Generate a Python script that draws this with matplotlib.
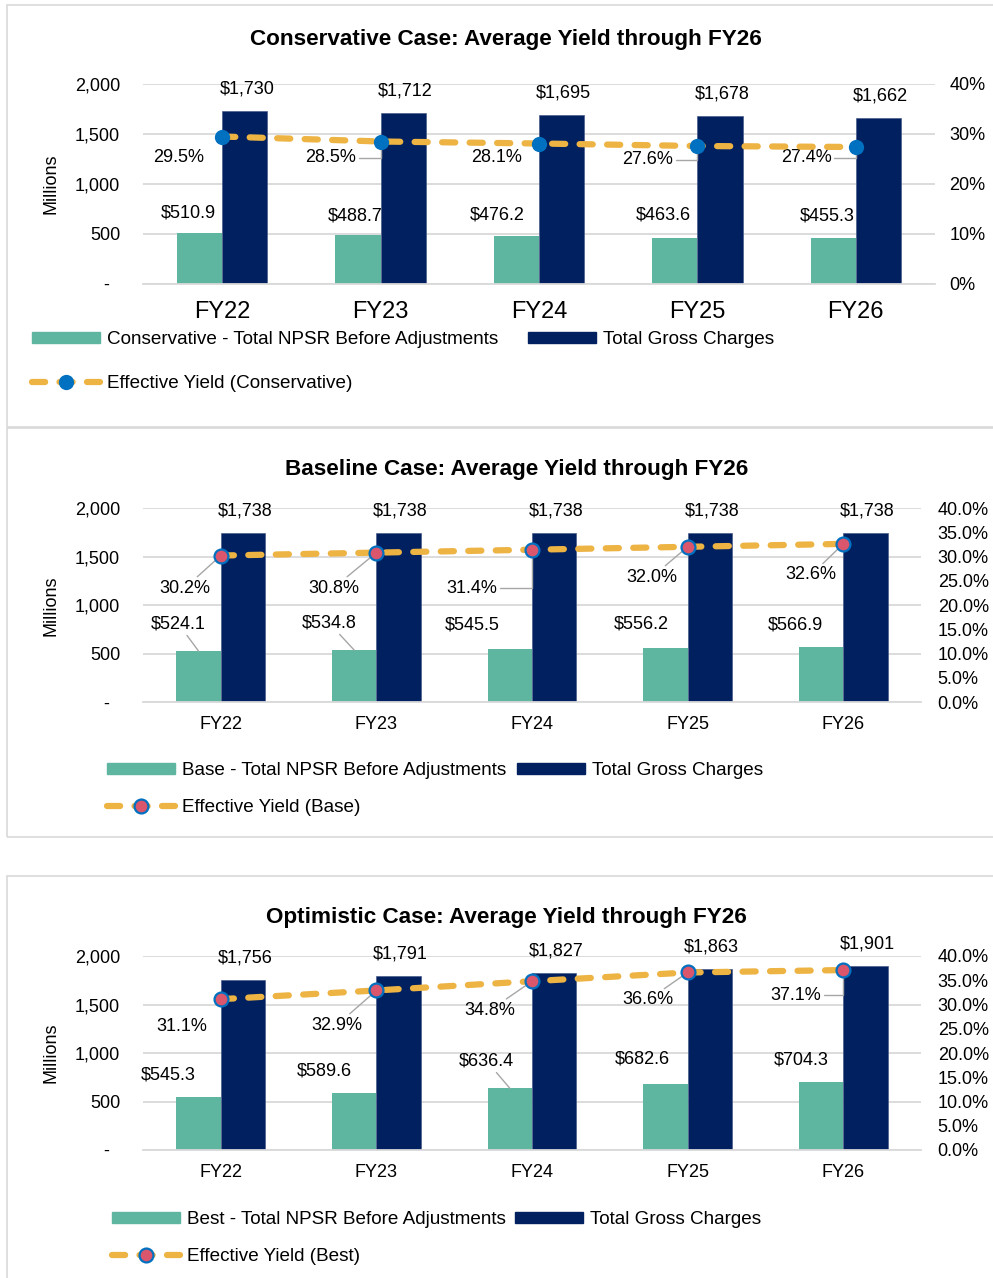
import matplotlib
matplotlib.use("Agg")
import matplotlib.pyplot as plt
from matplotlib.patches import Rectangle, Patch
from matplotlib.lines import Line2D
from matplotlib.ticker import FuncFormatter

plt.rcParams['font.family'] = ['Liberation Sans', 'DejaVu Sans']

# data
years = ["FY22", "FY23", "FY24", "FY25", "FY26"]

cons_npsr = [510.9, 488.7, 476.2, 463.6, 455.3]
cons_gross = [1730, 1712, 1695, 1678, 1662]
cons_yield = [29.5, 28.5, 28.1, 27.6, 27.4]

base_npsr = [524.1, 534.8, 545.5, 556.2, 566.9]
base_gross = [1738, 1738, 1738, 1738, 1738]
base_yield = [30.2, 30.8, 31.4, 32.0, 32.6]

best_npsr = [545.3, 589.6, 636.4, 682.6, 704.3]
best_gross = [1756, 1791, 1827, 1863, 1901]
best_yield = [31.1, 32.9, 34.8, 36.6, 37.1]

titles = ["Conservative Case: Average Yield through FY26",
          "Baseline Case: Average Yield through FY26",
          "Optimistic Case: Average Yield through FY26"]
npsr_names = ["Conservative - Total NPSR Before Adjustments",
              "Base - Total NPSR Before Adjustments",
              "Best - Total NPSR Before Adjustments"]
gross_name = "Total Gross Charges"
yield_names = ["Effective Yield (Conservative)", "Effective Yield (Base)",
               "Effective Yield (Best)"]

W, H = 993, 1278
GREEN = '#5FB6A0'
NAVY = '#002060'
GOLD = '#EDB343'
BLUE = '#0070C0'
PINK = '#D9566D'
GRID = '#D9D9D9'
LEAD = '#A6A6A6'
BW = 0.285


def fx(px):
    return px / W


def fy(py):
    return 1 - py / H


fig = plt.figure(figsize=(W / 100, H / 100), dpi=100)

# panel layout (pixels) and label placement offsets (pixels)
layout = [
    dict(box=(7, 5, 427), ax=(143, 935, 84, 284), title=(506, 39), ylab=184,
         xfs=17, xpad=12, rpad=10.5, pctfmt="{:.0f}%", rstep=10,
         mk=dict(marker='o', ms=11, mfc=BLUE, mec=BLUE, mew=0),
         leg=(32, 331), legcs=1.6, legls=1.42,
         npsr_off=[(-11.5, 20), (-3, 19), (-19.5, 21), (-11, 22.5), (-5.5, 22.5)],
         npsr_lead=['none'] * 5,
         yld_off=[(-44, -20.5), (-50, -16.5), (-42, -14.5), (-50, -14), (-49.5, -11)],
         yld_lead=['none', 'elbow', 'none', 'elbow', 'elbow']),
    dict(box=(7, 428, 837), ax=(143, 921, 508, 702), title=(517, 470), ylab=606,
         xfs=13, xpad=10, rpad=12, pctfmt="{:.1f}%", rstep=5,
         mk=dict(marker='o', ms=10, mfc=PINK, mec=BLUE, mew=1.6),
         leg=(107, 762), legcs=0.55, legls=1.07,
         npsr_off=[(-20, 27), (-25, 27), (-38, 24), (-24.6, 24), (-26, 22)],
         npsr_lead=['line', 'line', 'none', 'none', 'none'],
         yld_off=[(-36, -32.5), (-43, -35.4), (-60, -38.3), (-35.6, -30.2), (-32, -31)],
         yld_lead=['line', 'line', 'elbow', 'line', 'line']),
    dict(box=(7, 876, 1300), ax=(143, 921, 956, 1150), title=(506, 918), ylab=1053,
         xfs=13, xpad=10, rpad=12, pctfmt="{:.1f}%", rstep=5,
         mk=dict(marker='o', ms=10, mfc=PINK, mec=BLUE, mew=1.6),
         leg=(112, 1211), legcs=0.5, legls=1.07,
         npsr_off=[(-30, 22), (-30, 22), (-23, 27), (-22.6, 25), (-20, 22)],
         npsr_lead=['none', 'none', 'line', 'none', 'none'],
         yld_off=[(-39, -27), (-39.5, -34.6), (-42, -29), (-39.6, -27.5), (-47, -25)],
         yld_lead=['none', 'line', 'line', 'line', 'elbow']),
]

series = [(cons_npsr, cons_gross, cons_yield),
          (base_npsr, base_gross, base_yield),
          (best_npsr, best_gross, best_yield)]


def leader(kind, shrinkB):
    if kind == 'none':
        return None
    if kind == 'elbow':
        return dict(arrowstyle='-', color=LEAD, lw=1, shrinkA=0, shrinkB=shrinkB,
                    relpos=(1, 0.5), connectionstyle='angle,angleA=0,angleB=90,rad=0')
    return dict(arrowstyle='-', color=LEAD, lw=1, shrinkA=0, shrinkB=shrinkB)


for k, (L, (npsr, gross, yld)) in enumerate(zip(layout, series)):
    bx0, by0, by1 = L['box']
    fig.add_artist(Rectangle((fx(bx0), fy(by1)), fx(1020), (by1 - by0) / H,
                             transform=fig.transFigure, fill=False,
                             edgecolor=GRID, lw=1.2))
    l, r, t, b = L['ax']
    ax = fig.add_axes([fx(l), fy(b), (r - l) / W, (b - t) / H])
    x = list(range(len(years)))
    xn = [i - BW / 2 for i in x]
    xg = [i + BW / 2 for i in x]
    ax.bar(xn, npsr, width=BW, color=GREEN, zorder=2)
    ax.bar(xg, gross, width=BW, color=NAVY, edgecolor='#4a5d8c', lw=0.5, zorder=2)
    ax.set_xlim(-0.5, 4.5)
    ax.set_ylim(0, 2000)
    ax.set_yticks([0, 500, 1000, 1500, 2000])
    ax.yaxis.set_major_formatter(FuncFormatter(lambda v, p: "-  " if v == 0 else f"{v:,.0f}"))
    ax.set_xticks(x)
    ax.set_xticklabels(years, fontsize=L['xfs'])
    ax.tick_params(axis='y', length=0, labelsize=13, pad=16.5)
    ax.tick_params(axis='x', length=0, pad=L['xpad'])
    ax.grid(axis='y', color=GRID, lw=1.3)
    ax.set_axisbelow(True)
    for s in ['top', 'left', 'right']:
        ax.spines[s].set_visible(False)
    ax.spines['bottom'].set_color(GRID)
    ax.spines['bottom'].set_linewidth(1.3)

    ax2 = ax.twinx()
    ax2.set_ylim(0, 40)
    ax2.set_yticks(list(range(0, 41, L['rstep'])))
    fmt = L['pctfmt']
    ax2.yaxis.set_major_formatter(FuncFormatter(lambda v, p, f=fmt: f.format(v)))
    ax2.tick_params(axis='y', length=0, labelsize=13, pad=L['rpad'])
    for s in ax2.spines.values():
        s.set_visible(False)
    ax2.plot(x, yld, color=GOLD, lw=4.5, dashes=(2.1, 2.3), dash_capstyle='round',
             zorder=4, **L['mk'])

    for i in x:
        ax.annotate(f"${gross[i]:,.0f}", xy=(xg[i], gross[i]), xytext=(2, 22),
                    textcoords='offset pixels', ha='center', va='center', fontsize=13)
        ax.annotate(f"${npsr[i]:,.1f}", xy=(xn[i], npsr[i]), xytext=L['npsr_off'][i],
                    textcoords='offset pixels', ha='center', va='center', fontsize=13,
                    arrowprops=leader(L['npsr_lead'][i], 0))
        ax2.annotate(f"{yld[i]:.1f}%", xy=(i, yld[i]), xytext=L['yld_off'][i],
                     textcoords='offset pixels', ha='center', va='center', fontsize=13,
                     arrowprops=leader(L['yld_lead'][i], 4), zorder=3)

    fig.text(fx(L['title'][0]), fy(L['title'][1]), titles[k], ha='center', va='center',
             fontsize=16.2, fontweight='bold')
    fig.text(fx(51), fy(L['ylab']), "Millions", rotation=90, ha='center', va='center',
             fontsize=13)

    handles = [Patch(color=GREEN),
               Line2D([], [], color=GOLD, lw=4.5, dashes=(2.1, 2.3),
                      dash_capstyle='round', **L['mk']),
               Patch(color=NAVY)]
    labels = [npsr_names[k], yield_names[k], gross_name]
    fig.legend(handles, labels, loc='upper left',
               bbox_to_anchor=(fx(L['leg'][0]), fy(L['leg'][1])), ncol=2,
               frameon=False, fontsize=13.6, handlelength=3.6, handleheight=0.55,
               handletextpad=0.37, columnspacing=L['legcs'], labelspacing=L['legls'],
               borderpad=0, borderaxespad=0)

fig.savefig("out.png", dpi=100, facecolor='white')
